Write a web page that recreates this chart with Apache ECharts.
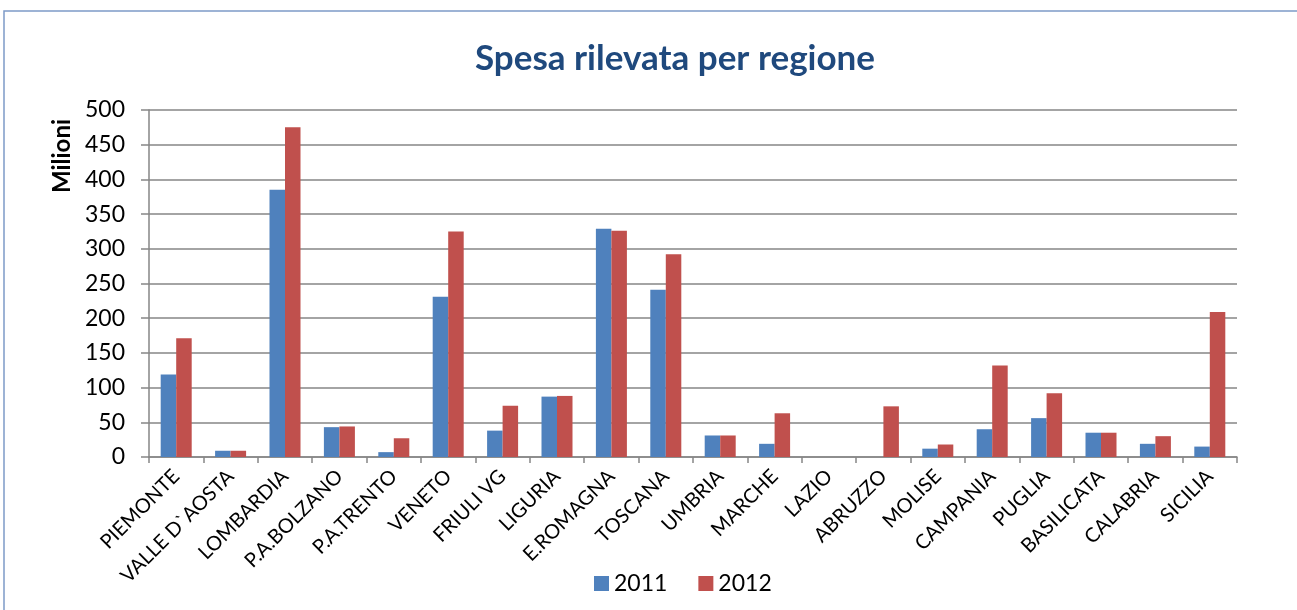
<!DOCTYPE html>
<html>
<head>
<meta charset="utf-8">
<style>
  html, body { margin: 0; padding: 0; background: #fff; }
  #chart { width: 1297px; height: 610px; }
</style>
<script src="https://cdn.jsdelivr.net/npm/echarts@6/dist/echarts.min.js"></script>
</head>
<body>
<div id="chart"></div>
<script>
  // dati (milioni)
  var regioni = ['PIEMONTE', 'VALLE D`AOSTA', 'LOMBARDIA', 'P.A.BOLZANO', 'P.A.TRENTO', 'VENETO',
    'FRIULI VG', 'LIGURIA', 'E.ROMAGNA', 'TOSCANA', 'UMBRIA', 'MARCHE', 'LAZIO', 'ABRUZZO',
    'MOLISE', 'CAMPANIA', 'PUGLIA', 'BASILICATA', 'CALABRIA', 'SICILIA'];
  var spesa2011 = [119, 9, 385, 43, 7, 231, 38, 87, 329, 241, 31, 19, 0, 0, 12, 40, 56, 35, 19, 15];
  var spesa2012 = [171, 9, 475, 44, 27, 325, 74, 88, 326, 292, 31, 63, 0, 73, 18, 132, 92, 35, 30, 209];
  var anni = ['2011', '2012'];

  var font = 'Lato, "Open Sans", sans-serif';
  var chart = echarts.init(document.getElementById('chart'));

  var option = {
    animation: false,
    title: {
      text: 'Spesa rilevata per regione',
      left: 670,
      textAlign: 'center',
      top: 36,
      textStyle: { color: '#1f497d', fontSize: 35, fontWeight: 'bold', fontFamily: font }
    },
    graphic: [
      {
        type: 'rect',
        shape: { x: 4, y: 11, width: 1400, height: 700 },
        style: { fill: 'none', stroke: '#7d9bc8', lineWidth: 1.5 }
      },
      {
        type: 'text',
        x: 62,
        y: 156,
        rotation: Math.PI / 2,
        style: {
          text: 'Milioni',
          fill: '#000',
          font: 'bold 24px ' + font,
          align: 'center',
          verticalAlign: 'middle'
        }
      }
    ],
    legend: {
      data: anni,
      left: 589,
      top: 567,
      itemWidth: 15,
      itemHeight: 15,
      itemGap: 31,
      icon: 'rect',
      textStyle: { fontSize: 23, color: '#000', fontFamily: font }
    },
    grid: { left: 149, right: 60, top: 110, bottom: 153 },
    xAxis: {
      type: 'category',
      data: regioni,
      axisLine: { lineStyle: { color: '#868686', width: 1.5 } },
      axisTick: { show: true, length: 6, lineStyle: { color: '#868686', width: 1.5 } },
      axisLabel: { rotate: 45, interval: 0, margin: 16, fontSize: 20, color: '#000', fontFamily: font }
    },
    yAxis: {
      type: 'value',
      min: 0,
      max: 500,
      interval: 50,
      axisLine: { show: true, lineStyle: { color: '#868686', width: 1.5 } },
      axisTick: { show: true, length: 8, lineStyle: { color: '#868686', width: 1.5 } },
      splitLine: { lineStyle: { color: '#868686', width: 1.5 } },
      axisLabel: { margin: 24, fontSize: 23, color: '#000', fontFamily: font }
    },
    series: [
      {
        name: anni[0],
        type: 'bar',
        data: spesa2011,
        barGap: '0%',
        barCategoryGap: '43%',
        itemStyle: { color: '#4f81bd' }
      },
      {
        name: anni[1],
        type: 'bar',
        data: spesa2012,
        itemStyle: { color: '#c0504d' }
      }
    ]
  };

  chart.setOption(option);
</script>
</body>
</html>
